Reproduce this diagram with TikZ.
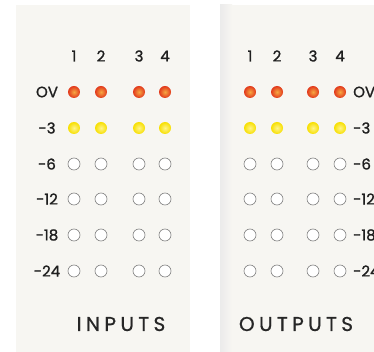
\documentclass[tikz,border=0pt]{standalone}
\usepackage{fontspec}
\setmainfont{Poppins}[FakeBold=1.2]
\newfontfamily\titlefont[LetterSpace=22,FakeBold=0.8]{Poppins}
\usetikzlibrary{positioning}

\definecolor{panel}{HTML}{F7F6F2}
\definecolor{ovin}{HTML}{F6A742}
\definecolor{ovout}{HTML}{E2381C}
\definecolor{hiin}{HTML}{FFF48A}
\definecolor{hiout}{HTML}{F7DF00}

\tikzset{
  led/.style={circle, minimum size=12pt, inner sep=0pt},
  ledov/.style={led, inner color=ovin, outer color=ovout},
  ledhi/.style={led, inner color=hiin, outer color=hiout},
  ledoff/.style={led, draw=black!50, fill=white, line width=0.6pt},
  num/.style={font=\fontsize{15}{15}\selectfont, text=black!88, inner sep=0pt},
  title/.style={font=\titlefont\fontsize{20}{20}\selectfont, text=black!85, inner sep=0pt},
}

\begin{document}
\begin{tikzpicture}[x=1pt,y=-1pt]
    % Background
    \useasboundingbox (0,0) rectangle (374,352);
    \fill[white] (0,0) rectangle (374,352);
    \fill[panel] (16,5) rectangle (190,352);
    \fill[panel] (220,5) rectangle (374,352);
    \shade[left color=black!8, right color=panel] (220,5) rectangle (232,352);

    % Inputs
    \foreach \x [count=\c] in {74,101,139,165} {
        \node[num] (in-\c) at (\x,56) {\c};
        \node[ledov] (in-\c-ov) at (\x,92) {};
        \node[ledhi] (in-\c-3) at (\x,128) {};
        \foreach \y/\lv in {164/6,199/12,235/18,271/24}
            \node[ledoff] (in-\c-\lv) at (\x,\y) {};
    }
    \foreach \y/\t [count=\r] in {92/OV,128/-3,164/-6,199/-12,235/-18,271/-24}
        \node[num] (in-lvl-\r) at (47,\y) {\t};
    \node[title] (inputs) at (121,324) {INPUTS};

    % Outputs
    \foreach \x [count=\c] in {250,277,313,340} {
        \node[num] (out-\c) at (\x,56) {\c};
        \node[ledov] (out-\c-ov) at (\x,92) {};
        \node[ledhi] (out-\c-3) at (\x,128) {};
        \foreach \y/\lv in {164/6,199/12,235/18,271/24}
            \node[ledoff] (out-\c-\lv) at (\x,\y) {};
    }
    \foreach \y/\t [count=\r] in {92/OV,128/-3,164/-6,199/-12,235/-18,271/-24}
        \node[num, anchor=west] (out-lvl-\r) at (353,\y) {\t};
    \node[title] (outputs) at (296,324) {OUTPUTS};
\end{tikzpicture}
\end{document}
